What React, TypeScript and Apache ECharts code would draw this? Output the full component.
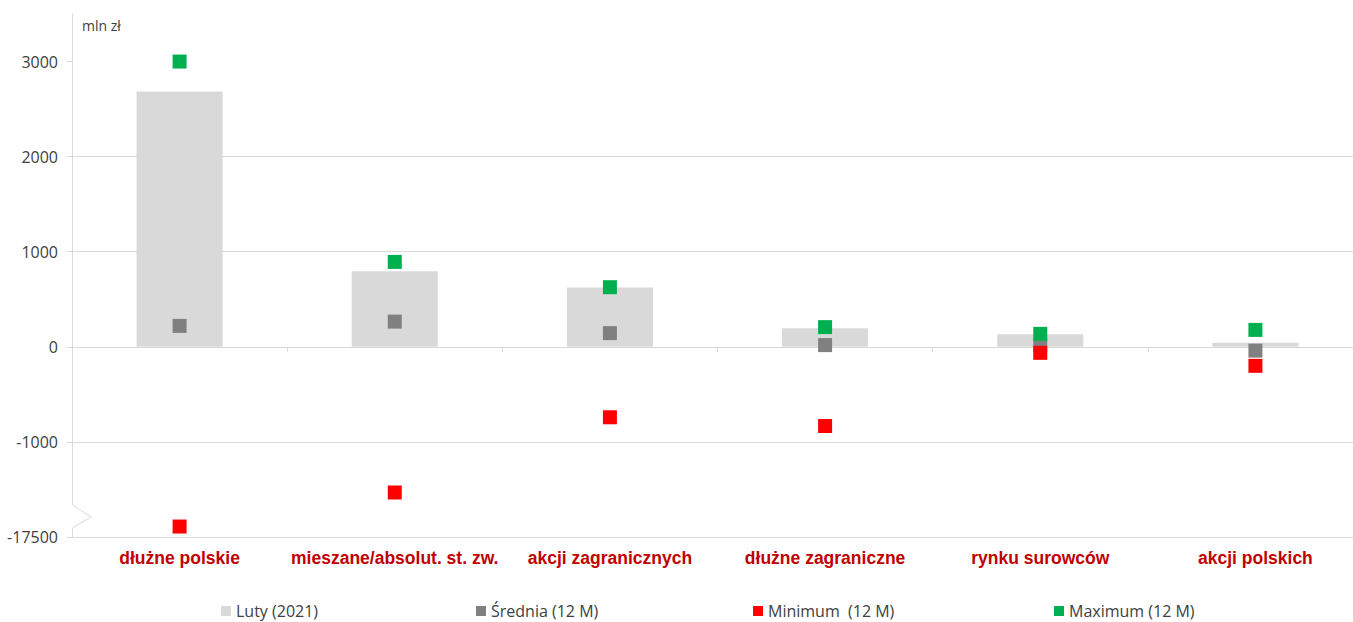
import React, { useEffect, useRef } from "react";
import * as echarts from "echarts";

const categories = [
  "dłużne polskie",
  "mieszane/absolut. st. zw.",
  "akcji zagranicznych",
  "dłużne zagraniczne",
  "rynku surowców",
  "akcji polskich",
];
const lutyValues = [2686, 795, 624, 196, 133, 42];
const sredniaValues = [220, 265, 144, 18, 20, -40];
const minimumValues = [-17390, -1532, -741, -833, -63, -200];
const maximumValues = [3000, 893, 627, 207, 136, 178];

const seriesNames = ["Luty (2021)", "Średnia (12 M)", "Minimum  (12 M)", "Maximum (12 M)"];
const yTicks = [-2000, -1000, 0, 1000, 2000, 3000];
const breakLabel = "-17500";
// axis break: values below -2000 are shifted up by 15500 so that -17500 sits at the -2000 position
const toAxis = (v: number) => (v < -2000 ? v + 15500 : v);

const FONT = "'Open Sans', 'Noto Sans', sans-serif";
const LABEL_FONT = "'Liberation Sans', Arial, sans-serif";
const legendLefts = [221, 476, 753, 1054];

export default function App() {
  const ref = useRef<HTMLDivElement>(null);
  useEffect(() => {
    if (!ref.current) return;
    const chart = echarts.init(ref.current, undefined, { renderer: "svg" });
    const sq = (name: string, color: string, data: number[]) => ({
      name,
      type: "scatter",
      xAxisIndex: 0,
      symbol: "rect",
      symbolSize: 14,
      itemStyle: { color, opacity: 1 },
      data: data.map(toAxis),
    });
    chart.setOption({
      animation: false,
      textStyle: { fontFamily: FONT },
      grid: { left: 72, right: 0, top: 14, bottom: 85, containLabel: false },
      legend: seriesNames.map((n, i) => ({
        left: legendLefts[i],
        top: 603,
        padding: 0,
        itemWidth: 10,
        itemHeight: 10,
        itemGap: 0,
        icon: "rect",
        textStyle: { fontFamily: FONT, fontSize: 16, color: "#404040" },
        data: [n],
      })),
      xAxis: [
        {
          type: "category",
          data: categories,
          position: "bottom",
          axisLine: { onZero: true, lineStyle: { color: "#d9d9d9", width: 1 } },
          axisTick: { show: true, length: 5, interval: 0, lineStyle: { color: "#d9d9d9" } },
          axisLabel: { show: false },
          splitLine: { show: false },
        },
        {
          type: "category",
          data: categories,
          position: "bottom",
          axisLine: { onZero: false, show: true, lineStyle: { color: "#d9d9d9", width: 1 } },
          axisTick: { show: false },
          axisLabel: {
            show: true,
            interval: 0,
            margin: 12,
            color: "#c00000",
            fontWeight: "bold",
            fontSize: 17.5,
            fontFamily: LABEL_FONT,
          },
          splitLine: { show: false },
        },
      ],
      yAxis: {
        type: "value",
        min: -2000,
        max: 3500,
        interval: 1000,
        axisLine: { show: true, lineStyle: { color: "#d9d9d9" } },
        axisTick: {
          show: true,
          length: 5,
          inside: false,
          lineStyle: { color: "#d9d9d9" },
          customValues: yTicks,
        },
        axisLabel: {
          color: "#404040",
          fontSize: 16,
          fontFamily: FONT,
          margin: 14,
          customValues: yTicks,
          formatter: (v: number) => (v === -2000 ? breakLabel : String(v)),
        },
        splitLine: {
          show: true,
          showMaxLine: false,
          showMinLine: false,
          lineStyle: { color: "#d9d9d9" },
        },
      },
      graphic: [
        {
          type: "text",
          left: 82,
          top: 18,
          style: { text: "mln zł", fontFamily: FONT, fontSize: 14, fill: "#404040" },
        },
        {
          type: "rect",
          shape: { x: 69, y: 505, width: 8, height: 23 },
          style: { fill: "#ffffff" },
          z: 100,
        },
        {
          type: "polyline",
          shape: { points: [[72.5, 505], [91, 517], [72.5, 528]] },
          style: { stroke: "#d9d9d9", lineWidth: 1, fill: "none" },
          z: 101,
        },
      ],
      series: [
        {
          name: seriesNames[0],
          type: "bar",
          xAxisIndex: 0,
          barWidth: "40%",
          itemStyle: { color: "#d9d9d9" },
          data: lutyValues,
        },
        sq(seriesNames[1], "#808080", sredniaValues),
        sq(seriesNames[2], "#ff0000", minimumValues),
        sq(seriesNames[3], "#00b050", maximumValues),
      ],
    });
    return () => chart.dispose();
  }, []);
  return (
    <div
      ref={ref}
      style={{ position: "fixed", left: 0, top: 0, width: 1363, height: 622, background: "#fff" }}
    />
  );
}
